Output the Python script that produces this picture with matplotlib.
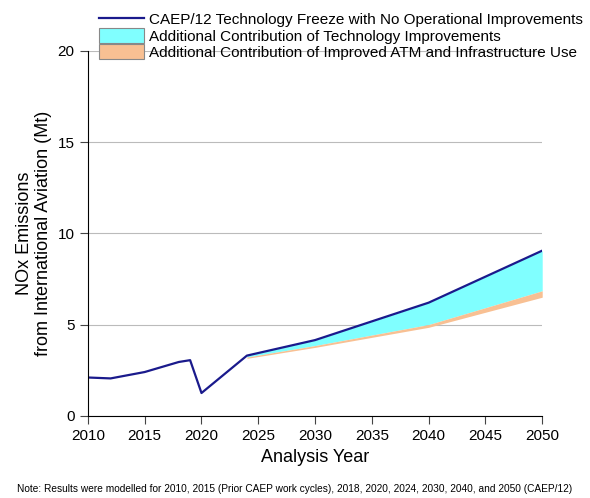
import matplotlib.pyplot as plt
from matplotlib.patches import Patch
from matplotlib.lines import Line2D

plt.rcParams['font.family'] = ['Liberation Sans', 'DejaVu Sans']

# Technology freeze line
years = [2010, 2012, 2015, 2018, 2019, 2020, 2024, 2030, 2040, 2050]
freeze = [2.1, 2.05, 2.4, 2.95, 3.05, 1.25, 3.3, 4.15, 6.2, 9.05]

# Scenario years for the bands
band_years = [2024, 2030, 2040, 2050]
tech = [3.22, 3.85, 5.0, 6.85]
atm = [3.15, 3.75, 4.85, 6.5]

labels = ['CAEP/12 Technology Freeze with No Operational Improvements',
          'Additional Contribution of Technology Improvements',
          'Additional Contribution of Improved ATM and Infrastructure Use']

fig = plt.figure(figsize=(5.9, 4.98), dpi=100)
ax = fig.add_axes([0.149, 0.165, 0.77, 0.733])

ax.fill_between(band_years, tech, freeze[-4:], color='#80ffff', lw=0)
ax.fill_between(band_years, atm, tech, color='#f8c093', lw=0)
ax.plot(years, freeze, color='#1a1a8c', lw=1.6)

ax.set_xlim(2010, 2050)
ax.set_ylim(0, 20)
ax.set_xticks(range(2010, 2051, 5))
ax.set_yticks([0, 5, 10, 15, 20])
ax.yaxis.grid(True, color='#bbbbbb', lw=0.8)
ax.set_axisbelow(True)
for s in ['top', 'right']:
    ax.spines[s].set_visible(False)
ax.tick_params(labelsize=11, length=6, color='#444444')
ax.set_xlabel('Analysis Year', fontsize=13)
ax.set_ylabel('NOx Emissions\nfrom International Aviation (Mt)', fontsize=13)

handles = [Line2D([], [], color='#1a1a8c', lw=1.6),
           Patch(facecolor='#80ffff', edgecolor='#888888', lw=0.8),
           Patch(facecolor='#f8c093', edgecolor='#888888', lw=0.8)]
fig.legend(handles, labels, loc='upper left',
           bbox_to_anchor=(0.145, 1.005), frameon=False, fontsize=11,
           handlelength=2.9, handleheight=1.15, handletextpad=0.35,
           labelspacing=0.05)

fig.text(0.5, 0.012, 'Note: Results were modelled for 2010, 2015 (Prior CAEP work cycles), 2018, 2020, 2024, 2030, 2040, and 2050 (CAEP/12)',
         ha='center', fontsize=7.3)

fig.savefig('out.png', dpi=100)
